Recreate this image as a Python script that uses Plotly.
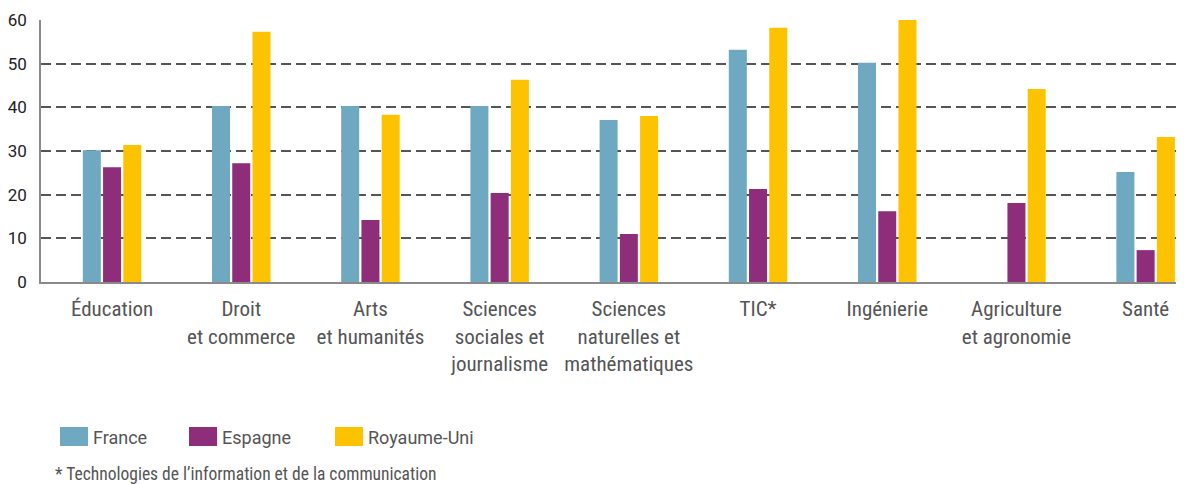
import plotly.graph_objects as go

categories = ["Éducation", "Droit<br>et commerce", "Arts<br>et humanités",
              "Sciences<br>sociales et<br>journalisme",
              "Sciences<br>naturelles et<br>mathématiques",
              "TIC*", "Ingénierie", "Agriculture<br>et agronomie", "Santé"]
series_names = ["France", "Espagne", "Royaume-Uni"]
france = [30.2, 40.3, 40.3, 40.3, 37.1, 53.2, 50.2, None, 25.2]
espagne = [26.3, 27.2, 14.2, 20.4, 11.0, 21.3, 16.2, 18.1, 7.3]
royaume_uni = [31.4, 57.3, 38.3, 46.3, 38.0, 58.2, 60.1, 44.2, 33.2]
y_ticks = [0, 10, 20, 30, 40, 50, 60]
footnote = "* Technologies de l\u2019information et de la communication"

colors = ["#6EA8C1", "#8E2E7B", "#FDC300"]
OFF = 8  # page body margin
W, H = 1184 - OFF, 484 - OFF
ML, MR, MT, MB = 41 - OFF, 0, 20 - OFF, 484 - 282
COND = "Roboto Condensed, Liberation Sans Narrow, Roboto, sans-serif"
REG = "Roboto, sans-serif"

x_idx = list(range(len(categories)))
fig = go.Figure()
for name, vals, col in zip(series_names, [france, espagne, royaume_uni], colors):
    fig.add_trace(go.Bar(x=x_idx, y=vals, name=name, marker_color=col,
                         marker_line_width=0, showlegend=False))

fig.update_layout(
    width=W, height=H,
    margin=dict(l=ML, r=MR, t=MT, b=MB),
    paper_bgcolor="white", plot_bgcolor="white",
    barmode="group", bargap=0.53, bargroupgap=0.11,
    font=dict(family=COND, color="#555555", size=20),
)
fig.update_xaxes(
    tickmode="array", tickvals=x_idx, ticktext=categories,
    range=[-0.55, 8.297], showgrid=False, zeroline=False,
    showline=True, linecolor="#8a8a8a", linewidth=2,
    ticks="", tickfont=dict(family=COND, size=21, color="#555555"),
    ticklabelstandoff=7,
)
fig.update_yaxes(
    range=[0, 60], tickvals=y_ticks, showgrid=True, gridcolor="#555555",
    gridwidth=1.5, griddash="10px,5px", zeroline=False,
    showline=True, linecolor="#8a8a8a", linewidth=1.5,
    ticks="", tickfont=dict(family=REG, size=17, color="#222222"), ticklabelstandoff=9,
)

# custom legend (page pixel positions converted to paper coords)
pw = W - ML - MR
ph = H - MT - MB
def px(x):
    return (x - OFF - ML) / pw
def py(y):
    return (H - MB - (y - OFF)) / ph

legend_x = [60, 189, 335]
for name, col, lx in zip(series_names, colors, legend_x):
    fig.add_shape(type="rect", xref="paper", yref="paper",
                  x0=px(lx), x1=px(lx + 28), y0=py(446), y1=py(427),
                  fillcolor=col, line_width=0)
    fig.add_annotation(text=name, xref="paper", yref="paper",
                       x=px(lx + 31), y=py(437), xanchor="left", yanchor="middle",
                       showarrow=False, font=dict(family=REG, size=18, color="#555555"))

fig.add_annotation(text=footnote, xref="paper", yref="paper",
                   x=px(53), y=py(474), xanchor="left", yanchor="middle",
                   showarrow=False, font=dict(family=COND, size=17.5, color="#555555"))

fig.write_html("out.html")
